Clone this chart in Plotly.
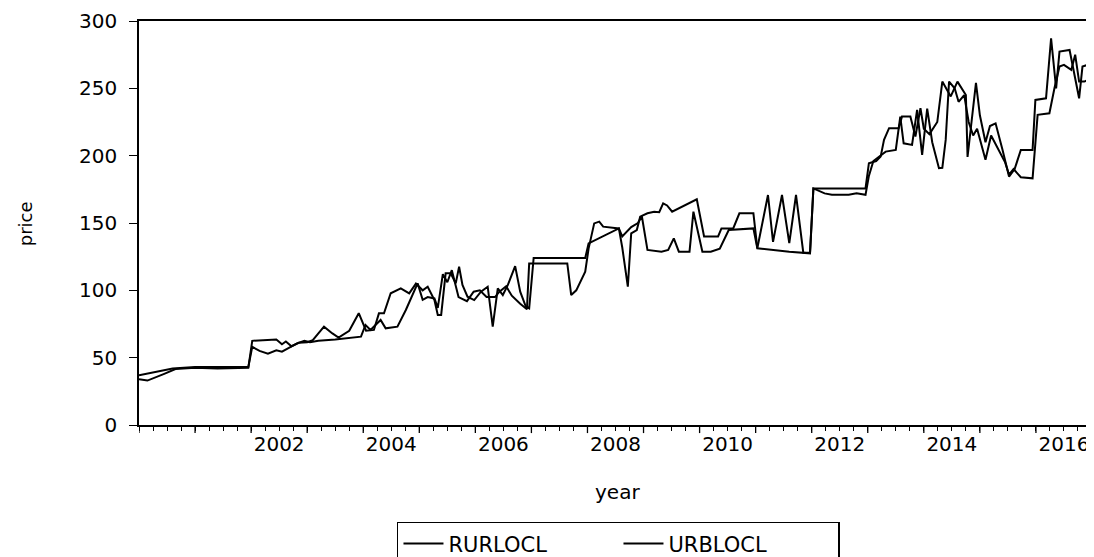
import plotly.graph_objects as go

# ---- data (decimal year, price) ----
rur_year = [2000.00, 2000.15, 2000.45, 2000.65, 2001.00, 2001.40, 2001.95, 2002.02, 2002.45, 2002.55,
            2002.62, 2002.72, 2002.85, 2003.00, 2003.10, 2003.30, 2003.45, 2003.56, 2003.75, 2003.92,
            2004.05, 2004.19, 2004.28, 2004.37, 2004.49, 2004.67, 2004.82, 2004.94, 2005.06, 2005.15,
            2005.27, 2005.33, 2005.39, 2005.47, 2005.56, 2005.65, 2005.71, 2005.77, 2005.86, 2005.98,
            2006.10, 2006.22, 2006.31, 2006.40, 2006.49, 2006.58, 2006.71, 2006.80, 2006.90, 2006.96,
            2007.04, 2007.96, 2008.02, 2008.56, 2008.62, 2008.72, 2008.78, 2008.88, 2008.94, 2009.07,
            2009.19, 2009.28, 2009.35, 2009.42, 2009.51, 2009.95, 2010.08, 2010.14, 2010.33, 2010.39,
            2010.60, 2010.71, 2010.96, 2011.03, 2011.28, 2011.60, 2011.97, 2012.03, 2012.96, 2013.02,
            2013.15, 2013.23, 2013.29, 2013.38, 2013.55, 2013.61, 2013.76, 2013.85, 2013.94, 2014.00,
            2014.10, 2014.24, 2014.33, 2014.48, 2014.60, 2014.75, 2014.78, 2014.85, 2014.93, 2015.00,
            2015.10, 2015.18, 2015.28, 2015.40, 2015.52, 2015.62, 2015.73, 2015.94, 2015.99, 2016.18,
            2016.27, 2016.36, 2016.42, 2016.60, 2016.71, 2016.77, 2016.83, 2016.92]
rur_price = [34, 33, 38, 41.5, 42.5, 42, 42.5, 62.5, 63.5, 60,
             62, 58.5, 61, 61.5, 63, 73, 68, 65, 70, 83,
             70, 70.6, 82.9, 82.9, 97.8, 101.5, 97.8, 105, 100, 102.7,
             92.8, 81.7, 81.7, 112.6, 112.6, 105.2, 117.5, 104, 95.3, 92.8,
             99, 102.7, 73, 101.5, 96.5, 104, 118, 99, 88, 86.6,
             124, 124, 134.9, 146, 132, 102.7, 142.3, 144.8, 154.7, 157.2,
             158.4, 158, 164.6, 163, 158.4, 167.6, 140, 140, 140, 146,
             146, 157.2, 157.2, 131.2, 130, 128.7, 127.5, 175.7, 175.7, 194.4,
             196, 199.3, 211.7, 220.4, 220.4, 229, 229, 214.2, 235.2, 220,
             216, 225, 255, 244, 255, 245, 199, 225, 254, 230,
             210, 222, 224, 205, 184.5, 190, 204.3, 204.3, 241.4, 242.6,
             287.2, 250, 277.3, 278.5, 255, 242.6, 266.2, 267.4]

urb_year = [2000.00, 2000.30, 2000.60, 2001.00, 2001.95, 2002.02, 2002.15, 2002.30, 2002.45, 2002.55,
            2002.70, 2002.82, 2002.95, 2003.05, 2003.20, 2003.50, 2003.96, 2004.04, 2004.13, 2004.31,
            2004.40, 2004.61, 2004.76, 2004.88, 2004.97, 2005.06, 2005.15, 2005.27, 2005.33, 2005.42,
            2005.50, 2005.58, 2005.70, 2005.85, 2005.97, 2006.08, 2006.20, 2006.35, 2006.43, 2006.55,
            2006.65, 2006.80, 2006.92, 2006.96, 2007.64, 2007.71, 2007.80, 2007.96, 2008.02, 2008.12,
            2008.21, 2008.28, 2008.56, 2008.62, 2008.78, 2008.90, 2008.97, 2009.07, 2009.32, 2009.44,
            2009.54, 2009.63, 2009.82, 2009.89, 2010.05, 2010.20, 2010.36, 2010.52, 2010.96, 2011.03,
            2011.22, 2011.31, 2011.47, 2011.60, 2011.72, 2011.85, 2011.97, 2012.03, 2012.23, 2012.36,
            2012.66, 2012.80, 2012.96, 2013.02, 2013.10, 2013.32, 2013.50, 2013.58, 2013.64, 2013.79,
            2013.88, 2013.97, 2014.06, 2014.15, 2014.27, 2014.33, 2014.39, 2014.45, 2014.55, 2014.62,
            2014.72, 2014.80, 2014.88, 2014.95, 2015.10, 2015.20, 2015.32, 2015.45, 2015.52, 2015.60,
            2015.73, 2015.94, 2016.03, 2016.24, 2016.33, 2016.42, 2016.50, 2016.63, 2016.70, 2016.77,
            2016.86, 2016.92]
urb_price = [37, 39.5, 42, 43, 43, 58, 55, 53, 55.5, 54.5,
             58, 60.6, 62.5, 61.5, 62.5, 63.5, 65.6, 74.3, 70.6, 78,
             71.8, 73, 85.4, 96.5, 105.2, 93, 95, 94, 87, 112,
             106, 115, 95, 92, 99, 100, 95, 95, 99, 103,
             96, 90, 86, 120, 120, 96.5, 100, 113.9, 131, 149.7,
             151, 147.3, 146, 140, 147, 150, 155, 130, 128.7, 130,
             138.6, 128.7, 128.7, 158.4, 128.7, 128.7, 131, 144.8, 146, 131.2,
             170.8, 136, 170.8, 135, 170.8, 128, 128, 175.7, 172, 170.9,
             170.9, 172, 170.9, 185, 196, 203, 204.3, 229, 209.2, 208,
             234, 200.6, 235, 210, 190.7, 191, 211.7, 255, 250, 240,
             245, 225, 215, 220, 197, 215, 205, 195, 186, 190,
             184, 183.2, 230.3, 231.5, 250, 266.2, 267.4, 263.7, 275, 255,
             255, 256]

label_years = [2002, 2004, 2006, 2008, 2010, 2012, 2014, 2016]
y_ticks = [0, 50, 100, 150, 200, 250, 300]
all_years = list(range(2000, 2017))

FONT = "DejaVu Sans"

fig = go.Figure()
fig.add_trace(go.Scatter(x=rur_year, y=rur_price, mode="lines", name="RURLOCL",
                         line=dict(color="black", width=2)))
fig.add_trace(go.Scatter(x=urb_year, y=urb_price, mode="lines", name="URBLOCL",
                         line=dict(color="black", width=2)))

# longer yearly ticks below the axis
for yr in all_years:
    fig.add_shape(type="line", xref="x", yref="paper", x0=yr, x1=yr, y0=0, y1=-0.02,
                  line=dict(color="black", width=1.3))

# the page body has an 8px default margin, so the figure is 8px smaller
fig.update_layout(
    width=1086, height=549,
    paper_bgcolor="white", plot_bgcolor="white",
    margin=dict(l=131, r=2, t=13, b=132, autoexpand=False),
    font=dict(family=FONT, color="black", size=20),
    showlegend=True,
    legend=dict(orientation="h", x=0.2707, xanchor="left", y=-0.24, yanchor="top",
                bordercolor="black", borderwidth=1.5, bgcolor="white",
                font=dict(family=FONT, size=21), entrywidth=165, itemwidth=40),
    xaxis=dict(range=[2000, 2017], showgrid=False, zeroline=False,
               showline=True, mirror=True, linecolor="black", linewidth=1.5,
               tickmode="array", tickvals=[y + 0.5 for y in label_years],
               ticktext=[str(y) for y in label_years], ticks="",
               tickfont=dict(family=FONT, size=20),
               minor=dict(tickmode="array", tickvals=[2000 + q * 0.25 for q in range(68)],
                          ticks="outside", ticklen=4, tickwidth=1, tickcolor="black",
                          showgrid=False)),
    yaxis=dict(range=[0, 300], showgrid=False, zeroline=False,
               showline=True, mirror=True, linecolor="black", linewidth=1.5,
               tickmode="array", tickvals=y_ticks, ticks="outside", ticklen=8,
               tickcolor="black", tickfont=dict(family=FONT, size=20),
               ticklabelstandoff=8),
    annotations=[
        dict(text="year", xref="paper", yref="paper", x=0.5016, y=-0.166,
             showarrow=False, font=dict(family=FONT, size=20), xanchor="center", yanchor="middle"),
        dict(text="price", xref="paper", yref="paper", x=-0.1196, y=0.497, textangle=-90,
             showarrow=False, font=dict(family=FONT, size=18), xanchor="center", yanchor="middle"),
    ],
)

fig.write_html("out.html")
